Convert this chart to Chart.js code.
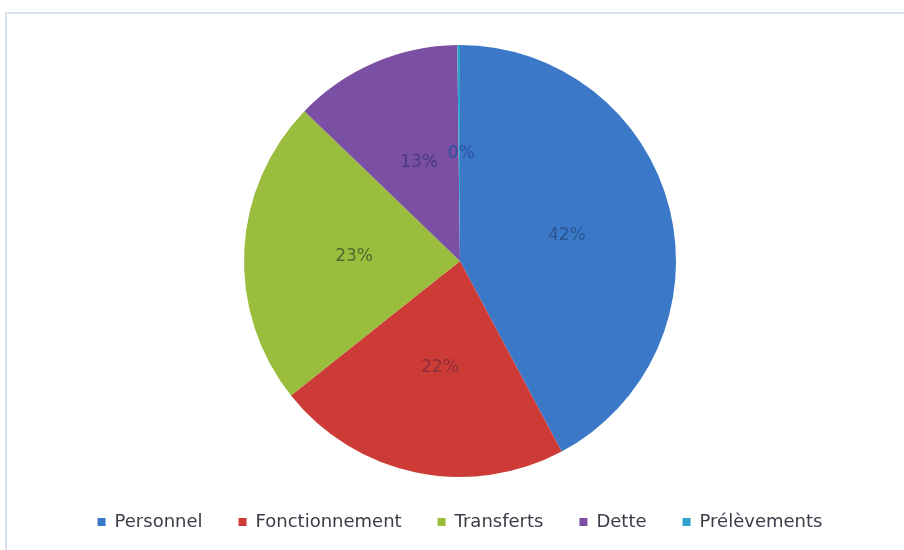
<!DOCTYPE html>
<html>
<head>
<meta charset="utf-8">
<script src="https://cdn.jsdelivr.net/npm/chart.js@4"></script>
<style>
  html, body { margin: 0; padding: 0; background: #ffffff; }
  #wrap { width: 904px; height: 550px; position: relative; }
</style>
</head>
<body>
<div id="wrap"><canvas id="c" width="904" height="550"></canvas></div>
<script>
const categories = ['Personnel', 'Fonctionnement', 'Transferts', 'Dette', 'Prélèvements'];
const shares = [42.2, 22.1, 22.9, 12.6, 0.2];
const sliceColors = ['#3b78c8', '#cc3b36', '#9bbd3e', '#7b4fa3', '#2fa3cc'];
const labelColors = ['#2a5592', '#8e2e3c', '#4b6a2c', '#4b3a82', '#2c52a0'];

const total = shares.reduce((a, b) => a + b, 0);
const pctText = shares.map(v => Math.round(v / total * 100) + '%');

const framePlugin = {
  id: 'frame',
  beforeDraw(chart) {
    const ctx = chart.ctx;
    ctx.save();
    ctx.fillStyle = '#ffffff';
    ctx.fillRect(0, 0, chart.width, chart.height);
    ctx.strokeStyle = '#d8e1ee';
    ctx.lineWidth = 2;
    ctx.beginPath();
    ctx.moveTo(6, chart.height);
    ctx.lineTo(6, 13);
    ctx.lineTo(chart.width, 13);
    ctx.stroke();
    ctx.restore();
  }
};

const pctLabels = {
  id: 'pctLabels',
  afterDatasetsDraw(chart) {
    const ctx = chart.ctx;
    const meta = chart.getDatasetMeta(0);
    ctx.save();
    ctx.font = '17px "DejaVu Sans"';
    ctx.textAlign = 'center';
    ctx.textBaseline = 'middle';
    meta.data.forEach((arc, i) => {
      const p = arc.getProps(['x', 'y', 'startAngle', 'endAngle', 'outerRadius'], true);
      const mid = (p.startAngle + p.endAngle) / 2;
      const r = p.outerRadius * 0.5;
      const x = p.x + Math.cos(mid) * r;
      const y = p.y + Math.sin(mid) * r;
      ctx.fillStyle = labelColors[i];
      ctx.fillText(pctText[i], x + 2, y + 1);
    });
    ctx.restore();
  }
};

new Chart(document.getElementById('c'), {
  type: 'pie',
  data: {
    labels: categories,
    datasets: [{
      data: shares,
      backgroundColor: sliceColors,
      borderWidth: 0
    }]
  },
  options: {
    responsive: false,
    animation: false,
    layout: { padding: { top: 45, left: 16, right: 0, bottom: 23 } },
    plugins: {
      tooltip: { enabled: false },
      legend: {
        position: 'bottom',
        maxHeight: 50,
        labels: {
          boxWidth: 8,
          boxHeight: 8,
          padding: 36,
          color: '#3c3c48',
          font: { family: '"DejaVu Sans"', size: 18 }
        }
      }
    }
  },
  plugins: [framePlugin, pctLabels]
});
</script>
</body>
</html>
